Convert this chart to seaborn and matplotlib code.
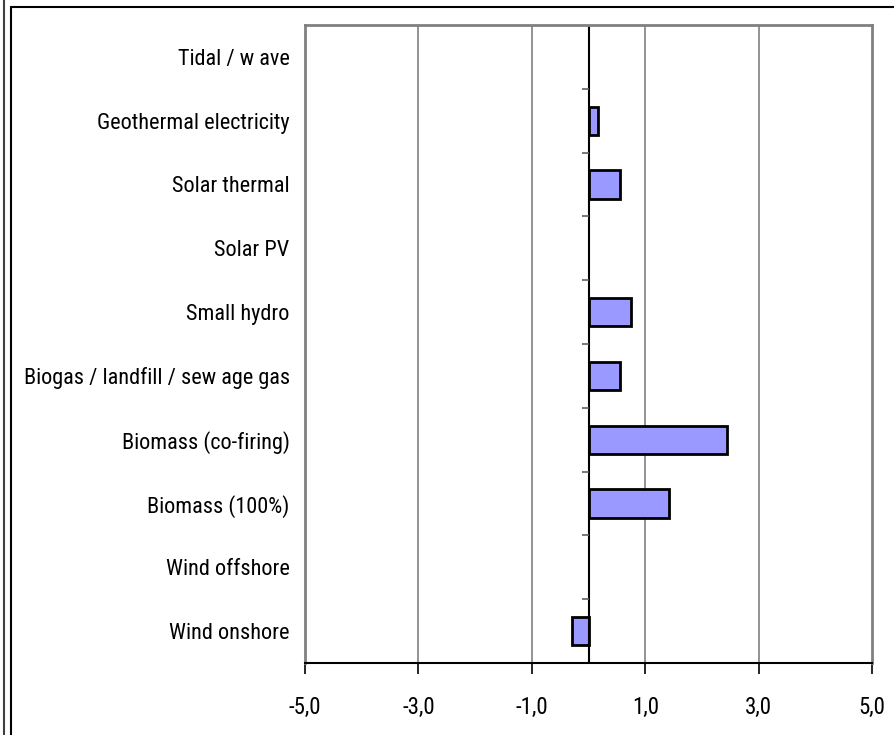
import numpy as np
import pandas as pd
import matplotlib
matplotlib.use('Agg')
import matplotlib.pyplot as plt
import seaborn as sns
from matplotlib.lines import Line2D
import warnings
warnings.filterwarnings('ignore')

# Data (top to bottom)
categories = [
    'Tidal / w ave',
    'Geothermal electricity',
    'Solar thermal',
    'Solar PV',
    'Small hydro',
    'Biogas / landfill / sew age gas',
    'Biomass (co-firing)',
    'Biomass (100%)',
    'Wind offshore',
    'Wind onshore',
]
values = [0.0, 0.16, 0.55, 0.0, 0.75, 0.55, 2.44, 1.42, 0.0, -0.29]
x_ticks = [-5, -3, -1, 1, 3, 5]
x_tick_labels = ['-5,0', '-3,0', '-1,0', '1,0', '3,0', '5,0']

df = pd.DataFrame({'category': categories, 'value': values})

sns.set_style('white')
plt.rcParams['font.family'] = ['Liberation Sans Narrow', 'Arial Narrow', 'Roboto Condensed',
                               'Open Sans Condensed', 'Liberation Sans', 'DejaVu Sans']
plt.rcParams['text.color'] = 'black'
plt.rcParams['xtick.color'] = 'black'
plt.rcParams['ytick.color'] = 'black'

fig = plt.figure(figsize=(8.95, 7.35), dpi=100)
ax = fig.add_axes([305 / 895, 1 - 663 / 735, 567 / 895, 638 / 735])

sns.barplot(data=df, x='value', y='category', orient='h', color='#9999FF',
            edgecolor='black', linewidth=2, width=0.44, saturation=1, ax=ax)

# hide empty bars (no outline at zero)
for p in ax.patches:
    if p.get_width() == 0:
        p.set_visible(False)

ax.set_xlim(-5, 5)
ax.set_ylim(len(categories) - 0.5, -0.5)
ax.set_xlabel('')
ax.set_ylabel('')

# vertical gridlines
for xt in x_ticks[1:-1]:
    ax.axvline(xt, color='#808080', lw=1.2, zorder=0)

# zero axis with category separators
ax.axvline(0, color='black', lw=1.5, zorder=1)
bounds = np.arange(len(categories) + 1) - 0.5
ax.hlines(bounds, -0.11, 0, color='#606060', lw=1.2, zorder=1)

ax.set_xticks(x_ticks)
ax.set_xticklabels(x_tick_labels, fontsize=16.5)
ax.tick_params(axis='x', direction='out', length=8, width=1.2, color='black', pad=16, bottom=True)
ax.tick_params(axis='y', length=0, pad=11, labelsize=16)

for side in ['top', 'right', 'left']:
    ax.spines[side].set_color('#808080')
    ax.spines[side].set_linewidth(2)
ax.spines['bottom'].set_color('black')
ax.spines['bottom'].set_linewidth(1.5)

# outer chart frame
fig.add_artist(Line2D([4.5 / 895, 4.5 / 895], [0, 1], color='#404040', lw=1.5))
fig.add_artist(Line2D([11 / 895, 11 / 895], [0, 1 - 7 / 735], color='black', lw=1.5))
fig.add_artist(Line2D([11 / 895, 1], [1 - 7 / 735, 1 - 7 / 735], color='black', lw=1.5))

fig.savefig('out.png', dpi=100)
